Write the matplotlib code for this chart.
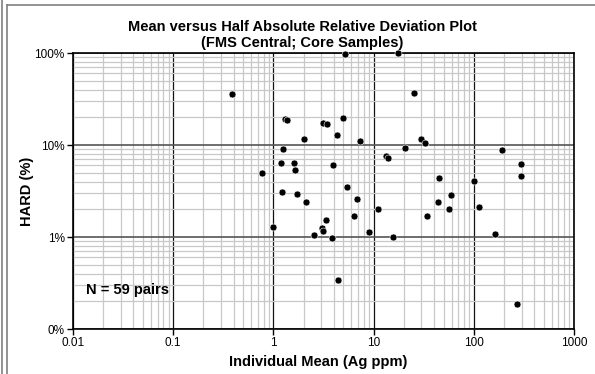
import matplotlib
matplotlib.use("Agg")
import matplotlib.pyplot as plt
from matplotlib.ticker import LogLocator, FixedLocator, NullFormatter

plt.rcParams['font.family'] = ['Liberation Sans', 'DejaVu Sans']

# ---------------- DATA ----------------
# individual mean (Ag ppm) and half absolute relative deviation (%)
mean_ag = [0.388, 1.32, 1.36, 3.14, 3.4, 2.01, 1.24, 1.2, 1.6, 1.64,
           0.77, 1.22, 1.72, 2.12, 5.13, 17.5, 25.4, 4.97, 4.3, 7.3,
           20.5, 29.4, 32.7, 13.2, 14.0, 189, 295, 295, 3.93, 45.2,
           100, 5.4, 6.8, 44.2, 59, 6.36, 10.96, 56, 112, 33.8,
           3.32, 3.07, 3.14, 2.54, 3.84, 9.04, 15.5, 163, 4.37, 271,
           0.99]
hard_pct = [35.6, 19.2, 18.9, 17.3, 16.9, 11.7, 9.1, 6.3, 6.3, 5.4,
            5.0, 3.1, 2.96, 2.38, 97, 99, 37, 19.8, 12.9, 11.1,
            9.2, 11.7, 10.4, 7.65, 7.3, 8.8, 6.2, 4.6, 6.07, 4.38,
            4.03, 3.52, 2.57, 2.38, 2.84, 1.68, 2.03, 2.03, 2.13, 1.68,
            1.52, 1.25, 1.17, 1.06, 0.975, 1.13, 0.99, 1.08, 0.34, 0.185,
            1.27]

x_ticks = [0.01, 0.1, 1, 10, 100, 1000]
x_labels = ["0.01", "0.1", "1", "10", "100", "1000"]
y_ticks = [0.1, 1, 10, 100]
y_labels = ["0%", "1%", "10%", "100%"]

# ---------------- FIGURE ----------------
fig = plt.figure(figsize=(5.95, 3.74), dpi=100)
# chart-area frame (left and top edges visible) and outer left edge
frame_kw = dict(transform=fig.transFigure, color="#808080", linewidth=1.2)
fig.add_artist(plt.Line2D([6.5 / 595, 6.5 / 595], [0, 1 - 5 / 374], **frame_kw))
fig.add_artist(plt.Line2D([6.5 / 595, 1], [1 - 5 / 374, 1 - 5 / 374], **frame_kw))
fig.add_artist(plt.Line2D([1.5 / 595, 1.5 / 595], [0, 1], **frame_kw))

ax = fig.add_axes([73 / 595, 1 - 329 / 374, 501 / 595, 276 / 374])
ax.set_xscale("log")
ax.set_yscale("log")
ax.set_xlim(0.01, 1000)
ax.set_ylim(0.1, 100)

# grid: light minor lines, dark major lines
minor = [m * 10.0 ** e for e in range(-2, 3) for m in range(2, 10)]
ax.xaxis.set_minor_locator(FixedLocator(minor))
ax.yaxis.set_minor_locator(LogLocator(base=10, subs=range(2, 10)))
ax.xaxis.set_minor_formatter(NullFormatter())
ax.yaxis.set_minor_formatter(NullFormatter())
ax.grid(which="minor", color="#c8c8c8", linewidth=0.9)
ax.grid(which="major", axis="x", color="#111111", linewidth=0.9)
ax.grid(which="major", axis="y", color="#555555", linewidth=1.2)
ax.set_axisbelow(True)

ax.set_xticks(x_ticks)
ax.set_xticklabels(x_labels)
ax.set_yticks(y_ticks)
ax.set_yticklabels(y_labels)
ax.tick_params(which="major", direction="out", length=4, width=1, labelsize=8.5, pad=2)
ax.tick_params(which="minor", length=0)
for s in ax.spines.values():
    s.set_linewidth(1.2)
    s.set_color("black")

ax.plot(mean_ag, hard_pct, "o", color="black", markersize=5,
        markeredgecolor="white", markeredgewidth=0.4, clip_on=False, zorder=5)

ax.text(0.0135, 0.24, "N = 59 pairs", fontsize=10.5, fontweight="bold")

ax.set_xlabel("Individual Mean (Ag ppm)", fontsize=10.5, fontweight="bold")
ax.xaxis.set_label_coords(0.49, -0.096)
ax.set_ylabel("HARD (%)", fontsize=10.5, fontweight="bold")
ax.yaxis.set_label_coords(-0.078, 0.5)
fig.text(302 / 595, 1 - 35 / 374, "Mean versus Half Absolute Relative Deviation Plot\n(FMS Central; Core Samples)",
         ha="center", va="center", fontsize=10.5, fontweight="bold", linespacing=1.1)

fig.savefig("out.png", dpi=100)
